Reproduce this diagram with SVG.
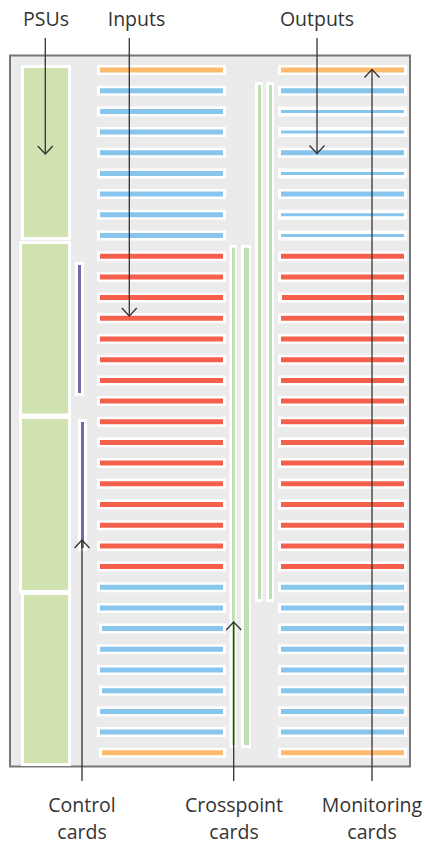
<svg xmlns="http://www.w3.org/2000/svg" width="425" height="845" viewBox="0 0 425 845">
<defs>
<style>
.w{stroke:#fff;stroke-width:10;fill:none}
.o{stroke:#fdbb6e;stroke-width:5;fill:none}
.b{stroke:#87c5ec;stroke-width:5;fill:none}
.bt{stroke:#87c5ec;stroke-width:3;fill:none}
.r{stroke:#f4604b;stroke-width:5;fill:none}
.psu{fill:#d0e2af;stroke:#fff;stroke-width:3}
.wb{fill:#fff}
.xp{fill:#bfe0b2}
.ctl{fill:#7567b0}
.lead{stroke:#333;stroke-width:1.3;fill:none;marker-end:url(#chev)}
.lbl{font-family:"Open Sans","Noto Sans",sans-serif;font-size:19.5px;fill:#333;text-anchor:middle}
</style>
<marker id="chev" markerUnits="userSpaceOnUse" viewBox="-10 -10 20 20" markerWidth="20" markerHeight="20" refX="0" refY="0" orient="auto">
<path d="M-8,-7.5 L0,0 L-8,7.5" stroke="#333" stroke-width="1.3" fill="none"/>
</marker>
</defs>
<rect x="0" y="0" width="425" height="845" fill="#fff"/>
<g id="chassis">
<rect x="10" y="55.5" width="400" height="711" fill="#ebebeb" stroke="#777" stroke-width="2"/>
</g>
<g id="psus">
<g id="psu1"><rect class="psu" x="22.5" y="66.5" width="47" height="172"/></g>
<g id="psu2"><rect class="psu" x="20.5" y="242.5" width="49" height="172.5"/></g>
<g id="psu3"><rect class="psu" x="20.5" y="417.5" width="49" height="174"/></g>
<g id="psu4"><rect class="psu" x="22.5" y="593.5" width="47" height="171"/></g>
</g>
<g id="control-cards">
<g id="ctl1"><rect class="wb" x="75" y="262" width="9" height="134"/><rect class="ctl" x="78" y="265" width="3" height="128"/></g>
<g id="ctl2"><rect class="wb" x="78" y="419" width="9" height="132"/><rect class="ctl" x="81" y="422" width="3" height="126"/></g>
</g>
<g id="crosspoint-cards">
<g id="xp1"><rect class="wb" x="229.5" y="245" width="7" height="503"/><rect class="xp" x="232" y="247.7" width="3" height="497.3"/></g>
<g id="xp2"><rect class="wb" x="241" y="245" width="10" height="503"/><rect class="xp" x="244" y="247.7" width="5" height="497.3"/></g>
<g id="xp3"><rect class="wb" x="255" y="82" width="8" height="520"/><rect class="xp" x="258" y="85" width="3" height="514"/></g>
<g id="xp4"><rect class="wb" x="266" y="82" width="8" height="520"/><rect class="xp" x="269" y="85" width="3" height="514"/></g>
</g>
<g id="inputs">
<path class="w" d="M97 70H226M97 90.7H226M97 111.4H226M97 132.1H226M97 152.8H226M97 173.5H226M97 194.1H226M97 214.8H226M97 235.5H226M97 256.2H226M97 276.9H226M97 297.6H226M97 318.3H226M97 339H226M97 359.7H226M97 380.4H226M97 401H226M97 421.7H226M97 442.4H226M97 463.1H226M97 483.8H226M97 504.5H226M97 525.2H226M97 545.9H226M97 566.6H226M97 587.3H226M97 607.9H226M99 628.6H226M97 649.3H226M97 670H226M99 690.7H226M97 711.4H226M97 732.1H226M99 752.8H226"/>
<path class="o" d="M100 70H223M102 752.8H223"/>
<path class="b" d="M100 90.7H223M100 111.4H223M100 132.1H223M100 152.8H223M100 173.5H223M100 194.1H223M100 214.8H223M100 235.5H223"/>
<path class="r" d="M100 256.2H223M100 276.9H223M100 297.6H223M100 318.3H223M100 339H223M100 359.7H223M100 380.4H223M100 401H223M100 421.7H223M100 442.4H223M100 463.1H223M100 483.8H223M100 504.5H223M100 525.2H223M100 545.9H223M100 566.6H223"/>
<path class="b" d="M100 587.3H223M100 607.9H223M102 628.6H223M100 649.3H223M100 670H223M102 690.7H223M100 711.4H223M100 732.1H223"/>
</g>
<g id="outputs">
<path class="w" d="M278 70H407M278 90.7H407M278 111.4H407M278 132.1H407M278 152.8H407M278 173.5H407M278 194.1H407M278 214.8H407M278 235.5H407M278 256.2H407M278 276.9H407M278 297.6H407M278 318.3H407M278 339H407M278 359.7H407M278 380.4H407M278 401H407M278 421.7H407M278 442.4H407M278 463.1H407M278 483.8H407M278 504.5H407M278 525.2H407M278 545.9H407M278 566.6H407M278 587.3H407M278 607.9H407M278 628.6H407M278 649.3H407M278 670H407M278 690.7H407M278 711.4H407M278 732.1H407M278 752.8H407"/>
<path class="o" d="M281 70H404M281 752.8H404"/>
<path class="b" d="M281 90.7H404M281 152.8H404M281 194.1H404"/>
<path class="bt" d="M281 111.4H404M281 132.1H404M281 173.5H404M281 214.8H404M281 235.5H404"/>
<path class="r" d="M281 256.2H404M281 276.9H404M282 297.6H404M281 318.3H404M281 339H404M281 359.7H404M281 380.4H404M281 401H404M281 421.7H404M281 442.4H404M281 463.1H404M281 483.8H404M281 504.5H404M281 525.2H404M281 545.9H404M281 566.6H404"/>
<path class="b" d="M281 587.3H404M281 607.9H404M281 628.6H404M281 649.3H404M281 670H404M281 690.7H404M281 711.4H404M281 732.1H404"/>
</g>
<g id="connectors">
<path class="lead" d="M45.3 38V154"/>
<path class="lead" d="M129.3 38V316"/>
<path class="lead" d="M317 38V153.5"/>
<path class="lead" d="M82 781V540"/>
<path class="lead" d="M233.7 781V622"/>
<path class="lead" d="M372 781V69.5"/>
</g>
<g id="labels">
<text class="lbl" x="46" y="26">PSUs</text>
<text class="lbl" x="136.5" y="26">Inputs</text>
<text class="lbl" x="317" y="26">Outputs</text>
<text class="lbl" x="82" y="812">Control</text>
<text class="lbl" x="82" y="839">cards</text>
<text class="lbl" x="234" y="812">Crosspoint</text>
<text class="lbl" x="234" y="839">cards</text>
<text class="lbl" x="372" y="812">Monitoring</text>
<text class="lbl" x="372" y="839">cards</text>
</g>
</svg>
